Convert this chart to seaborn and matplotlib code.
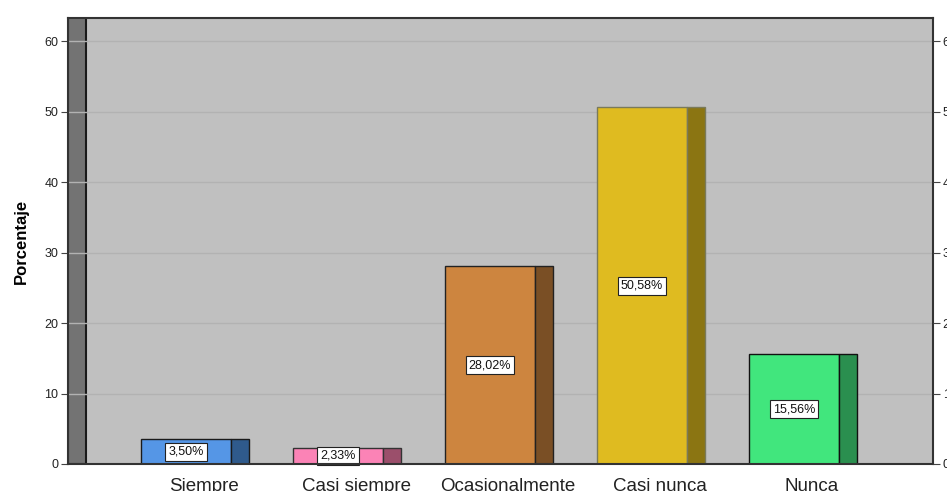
import matplotlib
matplotlib.use("Agg")
import matplotlib.pyplot as plt
import seaborn as sns
import pandas as pd
from matplotlib.patches import Rectangle

categories = ["Siempre", "Casi siempre", "Ocasionalmente", "Casi nunca", "Nunca"]
values = [3.50, 2.33, 28.02, 50.58, 15.56]
labels = ["3,50%", "2,33%", "28,02%", "50,58%", "15,56%"]
front_colors = ["#5596e6", "#fb83b6", "#cd853f", "#dfbb20", "#41e67d"]
side_colors = ["#2f5a8c", "#9b4f6b", "#7a4f25", "#8b7512", "#2a8f4f"]
edge_colors = ["#1a1a1a", "#333333", "#222222", "#7a7a5a", "#111111"]
yticks = [0, 10, 20, 30, 40, 50, 60]

sns.set_theme(style="white")
plt.rcParams['font.family'] = ['Liberation Sans', 'DejaVu Sans']

fig = plt.figure(figsize=(9.47, 4.91), dpi=100)
ax = fig.add_axes([68/947, 1-464/491, (933-68)/947, (464-18)/491])
ax.set_facecolor("#c0c0c0")

df = pd.DataFrame({"cat": categories, "val": values})
W = 90/152
D = 18/152
sns.barplot(data=df, x="cat", y="val", hue="cat", palette=front_colors,
            width=W, legend=False, ax=ax, zorder=3, saturation=1)
for i, p in enumerate(ax.patches[:len(values)]):
    p.set_edgecolor(edge_colors[i])
    p.set_linewidth(1.0)

# side faces
for i, v in enumerate(values):
    ax.add_patch(Rectangle((i + W/2, 0), D, v, facecolor=side_colors[i],
                           edgecolor=edge_colors[i], linewidth=1.0, zorder=3))
    ax.text(i, v/2, labels[i], ha="center", va="center", fontsize=9, color="#111111",
            zorder=5, bbox=dict(boxstyle="square,pad=0.25", facecolor="white",
                                edgecolor="#222222", linewidth=0.8))

xl = -(186-68)/152
xr = (933-186)/152
ax.set_xlim(xl, xr)
ax.set_ylim(0, (464-18)/7.05)

# left wall
ax.add_patch(Rectangle((xl, 0), D, 70, facecolor="#737373", edgecolor="#1a1a1a",
                       linewidth=1.5, zorder=2.5))

ax.set_yticks(yticks)
ax.set_yticklabels([str(t) for t in yticks], fontsize=9, color="#222222")
ax.yaxis.grid(True, color="#b2b2b2", linewidth=1.0, zorder=1)
ax.set_axisbelow(False)
for gl in ax.get_ygridlines():
    gl.set_zorder(2.7)
ax.tick_params(axis="y", length=5, width=0.8, color="#444444", left=True, pad=2)

ax.set_xticks([i + D for i in range(len(categories))])
ax.set_xticklabels(categories, fontsize=13.5, color="#222222")
ax.tick_params(axis="x", length=0, pad=10)
ax.set_xlabel("")
ax.set_ylabel("Porcentaje", fontsize=12, fontweight="bold", color="black", labelpad=11)

for s in ax.spines.values():
    s.set_color("#333333")
    s.set_linewidth(1.5)
    s.set_zorder(6)

ax2 = ax.twinx()
ax2.set_ylim(ax.get_ylim())
ax2.set_yticks(yticks)
ax2.set_yticklabels([str(t) for t in yticks], fontsize=9, color="#222222")
ax2.tick_params(axis="y", length=5, width=0.8, color="#444444", right=True, pad=2)
ax2.grid(False)
for s in ax2.spines.values():
    s.set_visible(False)

fig.savefig("out.png", dpi=100, facecolor="white")
